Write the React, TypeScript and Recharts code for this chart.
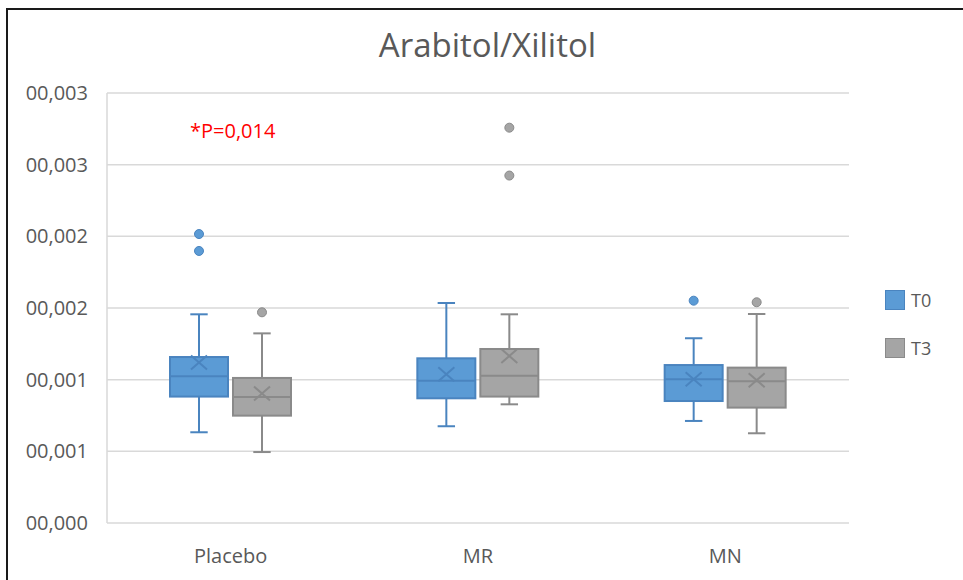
import React from 'react';
import { ComposedChart, Bar, XAxis, YAxis, CartesianGrid } from 'recharts';

const categories = ['Placebo', 'MR', 'MN'];
const yTicks = [0, 0.0005, 0.001, 0.0015, 0.002, 0.0025, 0.003];

// T0
const t0Min = [0.000633, 0.000675, 0.000712];
const t0Q1 = [0.000882, 0.00087, 0.000851];
const t0Median = [0.001023, 0.000993, 0.001003];
const t0Q3 = [0.001158, 0.001149, 0.001102];
const t0Max = [0.001456, 0.001535, 0.001289];
const t0Mean = [0.001119, 0.001037, 0.001003];
const t0Outliers = [[0.002016, 0.001898], [], [0.001551]];

// T3
const t3Min = [0.000495, 0.000828, 0.000626];
const t3Q1 = [0.000749, 0.000882, 0.000805];
const t3Median = [0.000879, 0.001028, 0.000989];
const t3Q3 = [0.001012, 0.001214, 0.001084];
const t3Max = [0.001323, 0.001456, 0.001458];
const t3Mean = [0.000903, 0.001165, 0.000996];
const t3Outliers = [[0.00147], [0.002758, 0.002424], [0.00154]];

const series = [
  { key: 't0', name: 'T0', fill: '#5b9bd5', stroke: '#4a84bf', min: t0Min, q1: t0Q1, median: t0Median, q3: t0Q3, max: t0Max, mean: t0Mean, outliers: t0Outliers },
  { key: 't3', name: 'T3', fill: '#a5a5a5', stroke: '#8a8a8a', min: t3Min, q1: t3Q1, median: t3Median, q3: t3Q3, max: t3Max, mean: t3Mean, outliers: t3Outliers },
];

const data = categories.map((name, i) => ({
  name,
  index: i,
  t0: [t0Min[i], t0Max[i]],
  t3: [t3Min[i], t3Max[i]],
}));

const font = '"Open Sans", sans-serif';
const textColor = '#595959';

const fmt = (v: number) => '0' + v.toFixed(3).replace('.', ',');

// the bar spans [min, max]; everything else is placed on the same linear scale
const makeBoxShape = (s: any) => (props: any) => {
  const { x, y, width, height, payload } = props;
  const i = payload.index;
  const lo = s.min[i];
  const hi = s.max[i];
  const py = (v: number) => y + (height * (hi - v)) / (hi - lo);
  const cx = x + width / 2;
  const cap = width * 0.15;
  const yq1 = py(s.q1[i]);
  const yq3 = py(s.q3[i]);
  const ym = py(s.mean[i]);
  return (
    <g>
      <line x1={cx} x2={cx} y1={py(hi)} y2={yq3} stroke={s.stroke} strokeWidth={2} />
      <line x1={cx} x2={cx} y1={yq1} y2={py(lo)} stroke={s.stroke} strokeWidth={2} />
      <line x1={cx - cap} x2={cx + cap} y1={py(hi)} y2={py(hi)} stroke={s.stroke} strokeWidth={2} />
      <line x1={cx - cap} x2={cx + cap} y1={py(lo)} y2={py(lo)} stroke={s.stroke} strokeWidth={2} />
      <rect x={x} y={yq3} width={width} height={yq1 - yq3} fill={s.fill} stroke={s.stroke} strokeWidth={2} />
      <line x1={x} x2={x + width} y1={py(s.median[i])} y2={py(s.median[i])} stroke={s.stroke} strokeWidth={2} />
      <line x1={cx - 8} x2={cx + 8} y1={ym - 7} y2={ym + 7} stroke={s.stroke} strokeWidth={2} />
      <line x1={cx - 8} x2={cx + 8} y1={ym + 7} y2={ym - 7} stroke={s.stroke} strokeWidth={2} />
      {s.outliers[i].map((o: number, k: number) => (
        <circle key={k} cx={cx} cy={py(o)} r={4.5} fill={s.fill} stroke={s.stroke} strokeWidth={1} />
      ))}
    </g>
  );
};

export default function App() {
  return (
    <div style={{ position: 'absolute', left: 0, top: 0, width: 963, height: 580, overflow: 'hidden', background: '#fff' }}>
      <div style={{ position: 'absolute', left: 6, top: 8, width: 1000, height: 700, border: '2px solid #1a1a1a' }} />
      <ComposedChart
        width={963}
        height={580}
        data={data}
        margin={{ top: 93, right: 114, bottom: 0, left: 0 }}
        barCategoryGap={63}
        barGap={5}
        style={{ position: 'absolute', left: 0, top: 0 }}
      >
        <CartesianGrid vertical={false} stroke="#d9d9d9" strokeWidth={1.5} />
        <XAxis
          dataKey="name"
          height={57}
          axisLine={false}
          tickLine={false}
          tickSize={0}
          tickMargin={26}
          tick={{ fill: textColor, fontSize: 20, fontFamily: font }}
        />
        <YAxis
          width={107}
          domain={[0, 0.003]}
          ticks={yTicks}
          tickFormatter={fmt}
          axisLine={{ stroke: '#d9d9d9', strokeWidth: 1.5 }}
          tickLine={false}
          tickSize={0}
          tickMargin={19}
          tick={{ fill: textColor, fontSize: 20, fontFamily: font }}
        />
        {series.map((s) => (
          <Bar key={s.key} dataKey={s.key} name={s.name} fill={s.fill} shape={makeBoxShape(s)} isAnimationActive={false} />
        ))}
      </ComposedChart>
      <svg width={963} height={580} style={{ position: 'absolute', left: 0, top: 0, pointerEvents: 'none' }}>
        <text x={487.5} y={57} textAnchor="middle" fontFamily={font} fontSize={33} fill={textColor}>
          Arabitol/Xilitol
        </text>
        <text x={190} y={138} fontFamily={font} fontSize={20} fill="#ff0000">
          *P=0,014
        </text>
        {series.map((s, k) => (
          <g key={s.key}>
            <rect x={885.5} y={290.5 + k * 48} width={19} height={19} fill={s.fill} stroke={s.stroke} strokeWidth={1} />
            <text x={911} y={307 + k * 48} fontFamily={font} fontSize={18} fill={textColor}>
              {s.name}
            </text>
          </g>
        ))}
      </svg>
    </div>
  );
}
